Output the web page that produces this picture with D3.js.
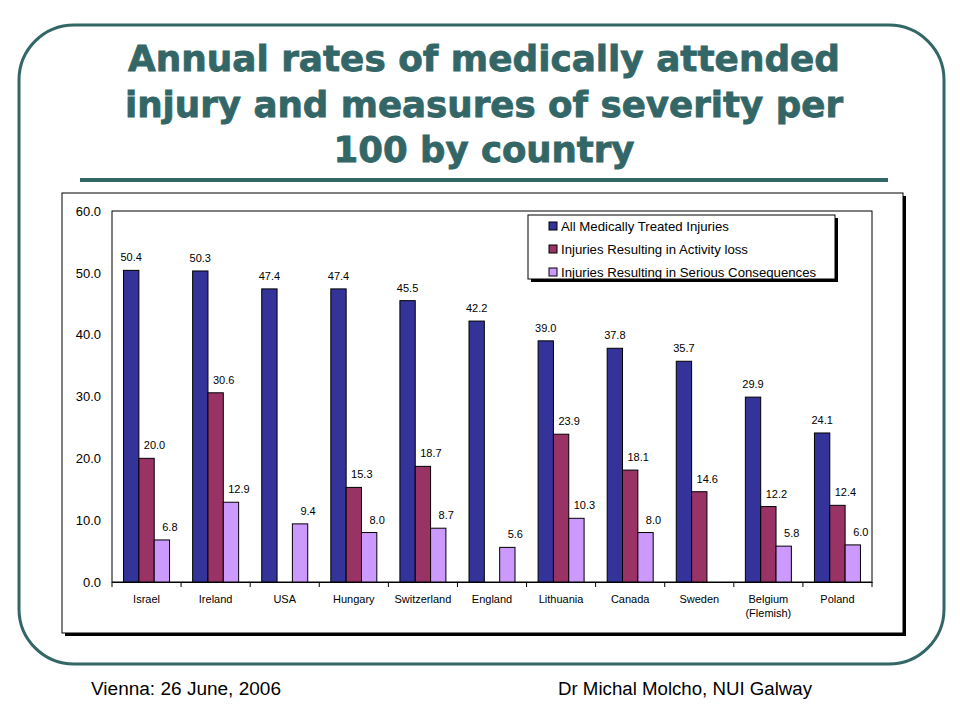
<!DOCTYPE html>
<html><head><meta charset="utf-8">
<script src="https://cdn.jsdelivr.net/npm/d3@7/dist/d3.min.js"></script>
<style>body{margin:0;background:#fff}svg{display:block}</style>
</head><body>
<script>
const categories = ["Israel","Ireland","USA","Hungary","Switzerland","England","Lithuania","Canada","Sweden","Belgium\n(Flemish)","Poland"];
const seriesNames = ["All Medically Treated Injuries","Injuries Resulting in Activity loss","Injuries Resulting in Serious Consequences"];
const allTreated = [50.4,50.3,47.4,47.4,45.5,42.2,39.0,37.8,35.7,29.9,24.1];
const activityLoss = [20.0,30.6,null,15.3,18.7,null,23.9,18.1,14.6,12.2,12.4];
const serious = [6.8,12.9,9.4,8.0,8.7,5.6,10.3,8.0,null,5.8,6.0];
const yTicks = [0,10,20,30,40,50,60];
const colors = ["#333399","#993366","#CC99FF"];
const series = [allTreated, activityLoss, serious];

const W=960,H=720;
const svg=d3.select("body").append("svg").attr("width",W).attr("height",H);
const teal="#336666";
svg.append("rect").attr("x",19).attr("y",25).attr("width",925).attr("height",639)
  .attr("rx",55).attr("ry",55).attr("fill","none").attr("stroke",teal).attr("stroke-width",3);

const titleLines=[["Annual rates of medically attended",712,71],["injury and measures of severity per",718,117],["100 by country",301,162]];
svg.append("g").selectAll("text").data(titleLines).join("text")
  .attr("x",484).attr("y",d=>d[2]).attr("text-anchor","middle")
  .attr("font-family","DejaVu Sans, sans-serif").attr("font-weight","bold")
  .attr("font-size",35).attr("fill",teal)
  .attr("textLength",d=>d[1]).attr("lengthAdjust","spacingAndGlyphs")
  .style("stroke",teal).style("stroke-width",0.8)
  .text(d=>d[0]);
svg.append("rect").attr("x",80).attr("y",178).attr("width",808).attr("height",4).attr("fill",teal);

// chart frame with shadow
svg.append("rect").attr("x",65).attr("y",196).attr("width",841).attr("height",440).attr("fill","#000");
svg.append("rect").attr("x",62).attr("y",193).attr("width",841).attr("height",440).attr("fill","#fff").attr("stroke","#000").attr("stroke-width",1);

const m={l:112,t:211,r:872,b:582};
const x=d3.scaleBand().domain(categories).range([m.l,m.r]).padding(0);
const inner=d3.scaleBand().domain([0,1,2]).range([0,46]);
const y=d3.scaleLinear().domain([0,60]).range([m.b,m.t]);

svg.append("rect").attr("x",m.l).attr("y",m.t).attr("width",m.r-m.l).attr("height",m.b-m.t)
  .attr("fill","none").attr("stroke","#000").attr("stroke-width",1);

const font="Liberation Sans, Arial, sans-serif";
const yAxis=svg.append("g").attr("transform",`translate(${m.l},0)`)
  .call(d3.axisLeft(y).tickValues(yTicks).tickFormat(d3.format(".1f")).tickSize(0).tickPadding(11));
yAxis.select(".domain").remove();
yAxis.selectAll("text").attr("font-family",font).attr("font-size",13).attr("fill","#000");

const xAxis=svg.append("g").attr("transform",`translate(0,${m.b})`)
  .call(d3.axisBottom(x).tickSize(0).tickFormat(""));
xAxis.select(".domain").attr("stroke","#000");
svg.append("g").selectAll("line").data(d3.range(categories.length+1)).join("line")
  .attr("x1",i=>m.l+i*x.step()).attr("x2",i=>m.l+i*x.step())
  .attr("y1",m.b).attr("y2",m.b+5).attr("stroke","#000");

const labG=svg.append("g");
categories.forEach(c=>{
  const t=labG.append("text").attr("x",x(c)+x.bandwidth()/2).attr("y",603)
    .attr("text-anchor","middle").attr("font-family",font).attr("font-size",11).attr("fill","#000");
  c.split("\n").forEach((s,i)=>t.append("tspan").attr("x",x(c)+x.bandwidth()/2).attr("dy",i?14:0).text(s));
});

const labelShift=[0,8,8];
series.forEach((vals,si)=>{
  const g=svg.append("g");
  vals.forEach((v,ci)=>{
    if(v==null) return;
    const bx=x(categories[ci])+(x.bandwidth()-46)/2+inner(si);
    g.append("rect").attr("x",bx).attr("y",y(v)).attr("width",inner.bandwidth()).attr("height",y(0)-y(v))
      .attr("fill",colors[si]).attr("stroke","#000").attr("stroke-width",1);
    g.append("text").attr("x",bx+inner.bandwidth()/2+labelShift[si]).attr("y",y(v)-9).attr("text-anchor","middle")
      .attr("font-family",font).attr("font-size",11).attr("fill","#000").text(v.toFixed(1));
  });
});

// legend
svg.append("rect").attr("x",531).attr("y",218).attr("width",307).attr("height",64).attr("fill","#000");
svg.append("rect").attr("x",528).attr("y",215).attr("width",307).attr("height",64).attr("fill","#fff").attr("stroke","#000");
seriesNames.forEach((n,i)=>{
  const ly=226+i*23;
  svg.append("rect").attr("x",549).attr("y",ly-4).attr("width",8).attr("height",8).attr("fill",colors[i]).attr("stroke","#000");
  svg.append("text").attr("x",561).attr("y",ly+5).attr("font-family",font).attr("font-size",13.2).attr("fill","#000").text(n);
});

svg.append("text").attr("x",91).attr("y",695).attr("font-family",font).attr("font-size",18).attr("fill","#000")
  .attr("textLength",190).attr("lengthAdjust","spacingAndGlyphs").text("Vienna: 26 June,  2006");
svg.append("text").attr("x",558).attr("y",695).attr("font-family",font).attr("font-size",18).attr("fill","#000")
  .attr("textLength",254).attr("lengthAdjust","spacingAndGlyphs").text("Dr Michal Molcho, NUI Galway");
</script>
</body></html>
